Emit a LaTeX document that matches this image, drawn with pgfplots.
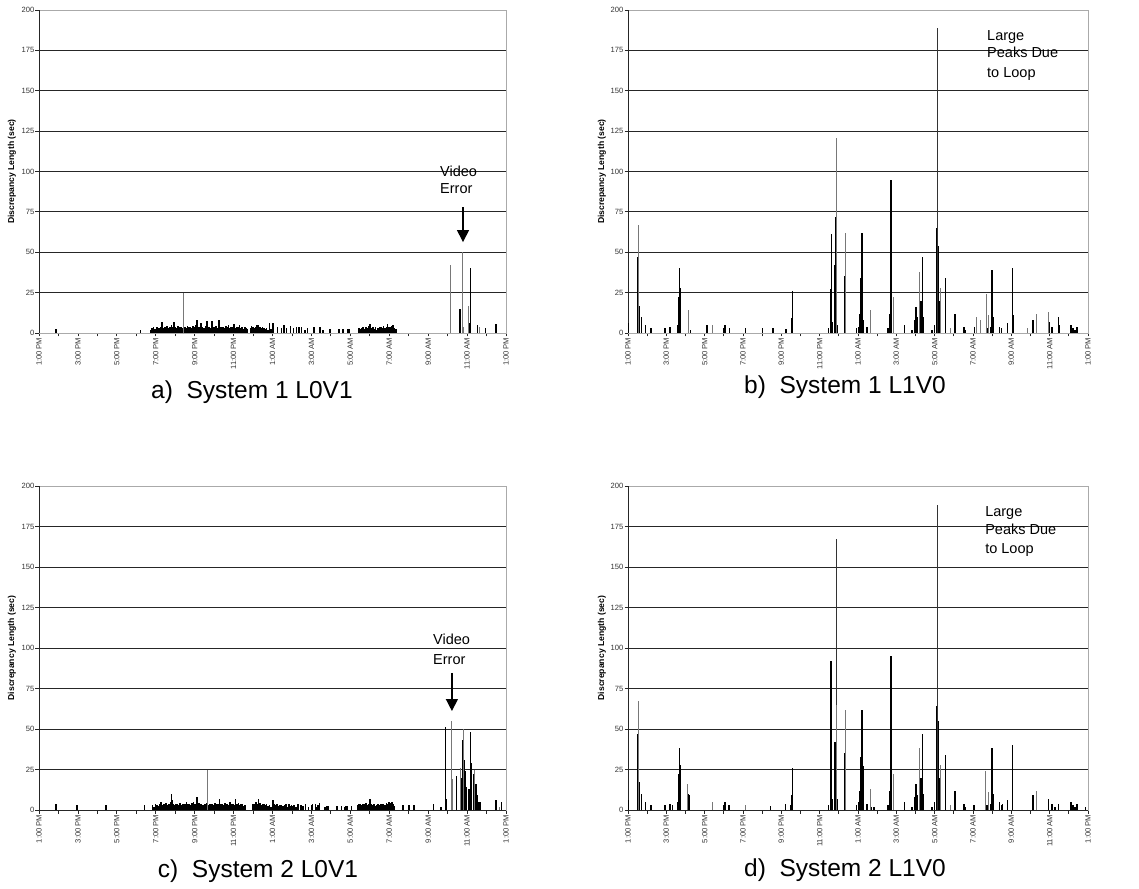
\documentclass[border=0pt]{standalone}
\usepackage{pgfplots}
\pgfplotsset{compat=1.18}
\usepackage{fontspec}
\setmainfont{Liberation Sans}
\usetikzlibrary{arrows.meta}
\definecolor{sgray}{RGB}{120,120,120}
\definecolor{bgray}{RGB}{170,170,170}
\pgfplotsset{
  panel/.style={
    scale only axis, height=323pt,
    xmin=0, xmax=24, ymin=0, ymax=200,
    ytick={0,25,...,200},
    xtick={0,2,...,24},
    xticklabels={1:00 PM,3:00 PM,5:00 PM,7:00 PM,9:00 PM,11:00 PM,1:00 AM,3:00 AM,5:00 AM,7:00 AM,9:00 AM,11:00 AM,1:00 PM},
    minor xtick={1,3,...,23},
    ymajorgrids, grid style={black!85, line width=0.8pt},
    axis line style={bgray, line width=0.8pt},
    tick style={black!85, line width=0.8pt},
    major tick length=3.5pt, minor tick length=3.5pt,
    tick align=outside,
    xtick pos=bottom, ytick pos=left,
    tick label style={font=\fontsize{7.6}{9}\selectfont, text=black!80},
    x tick label style={rotate=90, anchor=east, inner sep=1pt},
    y tick label style={inner sep=1pt},
    /pgf/number format/assume math mode=true,
    ylabel={Discrepancy Length (sec)},
    ylabel style={font=\fontsize{8.6}{10}\selectfont\bfseries, anchor=center},
    xlabel style={font=\fontsize{24.5}{28}\selectfont, anchor=base},
    blk/.style={ycomb, black, line width=1.4pt, mark=none},
    dns/.style={ycomb, black, line width=1.6pt, mark=none},
    gry/.style={ycomb, sgray, line width=0.9pt, mark=none},
  }
}
\begin{document}
\begin{tikzpicture}
\path[use as bounding box] (0,0) rectangle (1139pt,888pt);
% ---------------- a) ----------------
\begin{axis}[panel, width=467pt, at={(39pt,555pt)}, anchor=south west,
  ylabel style={at={(axis description cs:-0.0578,0.5)}},
  xlabel={a)\ \ System 1 L0V1},
  xlabel style={at={(axis description cs:0.456,-0.204)}}]
\draw[black!85, line width=0.9pt] (rel axis cs:0,0) -- (rel axis cs:0,1);
\draw[black!85, line width=0.9pt] (rel axis cs:0,0) -- (rel axis cs:1,0);
\addplot[dns] coordinates {(0.87,2.5)(5.22,2)
(5.75,2)(5.82,3)(5.89,4)(5.96,2.5)(6.03,3.5)(6.10,4)(6.17,3)(6.24,3.5)(6.31,6.5)(6.38,3)
(6.45,4)(6.52,3.5)(6.59,4.5)(6.66,3)(6.73,4)(6.80,5)(6.87,3.5)(6.94,6.5)(7.01,4)(7.08,3)
(7.15,4.5)(7.22,3.5)(7.29,4)(7.36,3)(7.43,3.5)(7.50,4)(7.57,3)(7.64,4.5)(7.71,3.5)(7.78,4)
(7.85,3)(7.92,4.5)(7.99,3.5)(8.06,5)(8.13,8)(8.20,4)(8.27,3.5)(8.34,6)(8.41,4)(8.48,3)
(8.55,4.5)(8.62,7.5)(8.69,3.5)(8.76,4)(8.83,3)(8.90,7.5)(8.97,4)(9.04,3.5)(9.11,4.5)(9.18,3)
(9.25,8)(9.32,4)(9.39,3.5)(9.46,4)(9.53,3)(9.60,4.5)(9.67,3.5)(9.74,5)(9.81,3)(9.88,4)
(9.95,3.5)(10.02,5.5)(10.09,3)(10.16,4)(10.23,3.5)(10.30,5)(10.37,3)(10.44,4)(10.51,2.5)(10.58,3.5)
(10.65,3)(10.72,2.5)(10.86,3)(10.93,4.5)(11.00,3.5)(11.07,3)(11.14,4)(11.21,5)(11.28,5)
(11.35,4)(11.42,3)(11.49,3.5)(11.56,3)(11.63,2.5)(11.70,3)(11.77,2)(11.84,6)(11.91,2.5)
(12.04,6)(12.26,4)(12.47,3)(12.60,5)(12.72,3)(12.93,4.5)(13.07,3)(13.24,4)(13.37,3.5)(13.49,4)
(13.66,2)(13.80,3)(14.14,4)(14.43,3.5)(14.60,2)(14.95,2.5)(15.43,2.5)(15.63,2.5)(15.86,2.5)(15.92,2.5)
(16.45,3)(16.52,2.5)(16.59,3)(16.66,3.5)(16.73,2.5)(16.80,4)(16.87,3)(16.94,4.5)(17.01,5.5)(17.08,3)
(17.15,4)(17.22,2.5)(17.29,3.5)(17.36,2)(17.43,3)(17.50,4)(17.57,3.5)(17.64,3)(17.71,4.5)(17.78,3)
(17.85,4)(17.92,5.5)(17.99,4)(18.06,3.5)(18.13,4.5)(18.20,5)(18.27,3)(18.34,2.5)};
\addplot[blk] coordinates {(21.64,15)(21.75,31.5)(22.09,6)(22.19,40)(22.53,5)(22.95,3)(23.48,5.5)};
\addplot[gry] coordinates {(7.43,24.5)(21.16,42)(21.78,50)(21.83,4)(22.05,17)(22.65,4)};
\node[font=\fontsize{14.5}{17}\selectfont, anchor=base west, inner sep=0pt] at (axis cs:20.61,97.2) {Video};
\node[font=\fontsize{14.5}{17}\selectfont, anchor=base west, inner sep=0pt] at (axis cs:20.61,86.1) {Error};
\draw[-{Triangle[width=12pt,length=12pt]}, line width=1.3pt] (axis cs:21.79,78) -- (axis cs:21.79,56.3);
\end{axis}
% ---------------- b) ----------------
\begin{axis}[panel, width=460pt, at={(628pt,555pt)}, anchor=south west,
  ylabel style={at={(axis description cs:-0.0565,0.5)}},
  xlabel={b)\ \ System 1 L1V0},
  xlabel style={at={(axis description cs:0.4717,-0.186)}}]
\draw[black!85, line width=0.9pt] (rel axis cs:0,0) -- (rel axis cs:0,1);
\draw[black!85, line width=0.9pt] (rel axis cs:0,0) -- (rel axis cs:1,0);
\addplot[blk] coordinates {(0.03,6)(0.52,47)(0.61,17)(0.71,10)(0.92,5)(1.2,3)(1.93,3)(2.2,4)
(2.58,5)(2.63,22)(2.68,40)(2.72,28)(3.26,2)(4.13,5)(5.0,3)(5.05,5)(5.28,3)(6.13,3)(7.02,3)(7.56,3)
(8.24,2.5)(8.55,9)(8.59,26)(10.47,3)(10.56,27)(10.61,61)(10.66,7)(10.8,42)(10.85,72)(10.92,5)
(11.29,23)(11.32,35)(11.92,3)(12.04,4)(12.09,12)(12.16,34)(12.21,62)(12.28,8)(12.46,4)
(13.57,3)(13.64,12)(13.69,27)(13.73,95)(13.76,82)(14.42,5)(14.81,2)(14.98,8)(15.03,16)(15.1,10)
(15.28,20)(15.35,47)(15.42,10)(15.85,2)(15.99,5)(16.08,65)(16.18,54)(16.25,20)(16.57,34)
(17.07,12)(17.53,4)(17.6,2)(18.08,4)(18.73,3)(18.92,4)(19.0,39)(19.07,10)(19.39,4)(19.48,3)
(19.79,6)(20.05,40)(20.09,11)(21.13,8)(21.99,7)(22.13,4)(22.47,10)(22.51,5)(23.12,5)(23.22,3)
(23.33,2)(23.43,4)};
\addplot[ycomb, black!80, line width=0.7pt] coordinates {(16.15,189)};
\addplot[gry] coordinates {(0.57,67)(3.17,14)(4.39,5)(10.89,121)(11.34,62)(12.63,14)(13.85,22)
(15.21,38)(16.29,28)(16.81,3)(18.17,10)(18.41,8)(18.68,24)(18.83,11)(20.82,3)(21.29,12)(21.95,13)};
\node[font=\fontsize{14.5}{17}\selectfont, anchor=base west, inner sep=0pt] at (axis cs:18.73,180.8) {Large};
\node[font=\fontsize{14.5}{17}\selectfont, anchor=base west, inner sep=0pt] at (axis cs:18.73,170.3) {Peaks Due};
\node[font=\fontsize{14.5}{17}\selectfont, anchor=base west, inner sep=0pt] at (axis cs:18.73,157.9) {to Loop};
\end{axis}
% ---------------- c) ----------------
\begin{axis}[panel, width=467pt, height=324pt, at={(39pt,78pt)}, anchor=south west,
  ylabel style={at={(axis description cs:-0.0578,0.5)}},
  xlabel={c)\ \ System 2 L0V1},
  xlabel style={at={(axis description cs:0.469,-0.207)}}]
\draw[black!85, line width=0.9pt] (rel axis cs:0,0) -- (rel axis cs:0,1);
\draw[black!85, line width=0.9pt] (rel axis cs:0,0) -- (rel axis cs:1,0);
\addplot[dns] coordinates {(0.87,4)(1.95,3)(3.44,3)(5.43,3)
(5.84,3)(5.91,2)(5.98,4)(6.05,3)(6.12,2.5)(6.19,3.5)(6.26,5)(6.33,3)(6.40,4)(6.47,3.5)
(6.54,4.5)(6.61,3)(6.68,4)(6.75,5)(6.80,10)(6.82,6)(6.89,4)(6.96,3)(7.03,3.5)(7.10,4)(7.17,3)
(7.24,4.5)(7.31,3)(7.38,4)(7.45,3.5)(7.52,4)(7.59,5)(7.66,3.5)(7.73,4)(7.80,3)(7.87,4.5)
(7.94,5)(8.01,3.5)(8.08,4)(8.12,8)(8.15,3)(8.22,4.5)(8.29,3.5)(8.36,4)(8.43,3)(8.50,4)
(8.57,3.5)(8.64,4.5)(8.71,3)(8.78,4)(8.85,3.5)(8.92,4)(8.99,3)(9.06,4.5)(9.13,3.5)(9.20,4)
(9.27,7)(9.34,3.5)(9.41,4)(9.48,3)(9.55,4.5)(9.62,3.5)(9.69,4)(9.76,3)(9.83,5)(9.90,3.5)
(9.97,4)(10.04,3)(10.09,7)(10.11,4)(10.18,3.5)(10.25,4.5)(10.32,3)(10.39,4)(10.46,3.5)(10.53,2.5)
(10.60,3)(11.00,4)(11.07,3.5)(11.14,5)(11.21,4)(11.28,7)(11.35,4.5)(11.42,3)(11.49,4)(11.56,3.5)
(11.63,3)(11.70,4)(11.77,2.5)(11.84,3)(11.91,2)(12.04,6)
(12.10,4)(12.17,3)(12.24,3.5)(12.31,2.5)(12.38,3)(12.45,3)(12.55,2.5)(12.62,3)(12.70,4)(12.77,2)
(12.84,3.5)(12.91,2.5)(12.98,3)(13.05,2.5)(13.12,3)(13.20,2)(13.30,4)(13.45,3)(13.52,2.5)(13.60,2.5)
(13.70,3.5)(13.85,2)(14.00,3)(14.06,4)(14.20,3.5)(14.30,2)(14.35,3)(14.42,4.5)(14.70,2)(14.78,2.5)
(14.85,2.5)(15.30,2.5)(15.55,2.5)(15.70,2)(15.78,2.5)(15.86,2.5)(16.05,2.5)
(16.38,3)(16.45,4)(16.52,3.5)(16.59,3)(16.66,4)(16.73,3.5)(16.80,4.5)(16.87,3)(16.94,4)(17.01,7)
(17.08,3.5)(17.15,3)(17.22,4)(17.29,2.5)(17.36,3)(17.43,3.5)(17.50,3)(17.57,4)(17.64,3.5)(17.71,4)
(17.78,3)(17.85,4.5)(17.92,4)(17.99,5)(18.06,4.5)(18.13,5)(18.20,4)(18.27,2.5)
(18.70,3)(19.00,3)(19.28,3)(20.27,4)(20.65,2)};
\addplot[blk] coordinates {(20.89,51)(20.92,7)(21.20,6)(21.45,21)(21.70,20)(21.77,43)(21.87,31)(21.90,24)(21.97,14)(22.10,13)
(22.19,48)(22.24,29)(22.32,22)(22.45,16)(22.50,9)(22.60,5)(22.67,5)(23.48,6)(23.77,5)};
\addplot[gry] coordinates {(8.65,25)(21.18,55)(21.23,19)(21.65,26)(21.80,50)(22.38,25)(23.68,2)};
\node[font=\fontsize{14.5}{17}\selectfont, anchor=base west, inner sep=0pt] at (axis cs:20.25,101.9) {Video};
\node[font=\fontsize{14.5}{17}\selectfont, anchor=base west, inner sep=0pt] at (axis cs:20.25,90.1) {Error};
\draw[-{Triangle[width=12pt,length=12pt]}, line width=1.3pt] (axis cs:21.22,84.6) -- (axis cs:21.22,61.1);
\end{axis}
% ---------------- d) ----------------
\begin{axis}[panel, width=460pt, height=324pt, at={(628pt,78pt)}, anchor=south west,
  ylabel style={at={(axis description cs:-0.0565,0.5)}},
  xlabel={d)\ \ System 2 L1V0},
  xlabel style={at={(axis description cs:0.4717,-0.204)}}]
\draw[black!85, line width=0.9pt] (rel axis cs:0,0) -- (rel axis cs:0,1);
\draw[black!85, line width=0.9pt] (rel axis cs:0,0) -- (rel axis cs:1,0);
\addplot[blk] coordinates {(0.03,6)(0.52,47)(0.61,17)(0.71,10)(0.92,5)(1.2,3)(1.93,3)(2.2,4)(2.32,3)
(2.58,5)(2.63,22)(2.68,38)(2.72,28)(3.12,10)(3.19,9)(5.0,3)(5.05,5)(5.26,3)(7.44,2.5)
(8.22,4)(8.5,3)(8.55,9)(8.59,26)(10.47,3)(10.56,30)(10.59,92)(10.63,61)(10.66,7)(10.8,42)(10.92,7)
(11.29,21)(11.32,35)(11.92,3)(12.04,5)(12.09,12)(12.16,33)(12.21,62)(12.26,27)(12.3,8)(12.46,4)
(12.68,2)(12.84,2)(13.57,3)(13.64,12)(13.69,27)(13.73,95)(13.76,83)(14.42,5)(14.81,2)(14.98,8)
(15.03,16)(15.1,9)(15.28,20)(15.35,47)(15.42,10)(15.85,2)(15.99,5)(16.08,64)(16.18,55)(16.25,20)
(16.57,34)(17.07,12)(17.53,4)(17.6,2)(18.05,3)(18.73,3)(18.92,4)(19.0,38)(19.05,10)(19.39,5)
(19.48,3)(19.55,4)(19.79,6)(20.05,40)(21.13,9)(21.95,7)(22.13,4)(22.27,2)(22.47,4)(23.12,5)
(23.22,3)(23.33,2)(23.43,4)(23.87,2)};
\addplot[ycomb, black!80, line width=0.7pt] coordinates {(10.89,167)(16.15,188)};
\addplot[gry] coordinates {(0.57,67)(3.08,16)(4.39,5)(6.11,3)(10.85,65)(11.34,62)(12.63,13)
(13.85,22)(15.21,38)(16.29,28)(16.81,3)(18.66,24)(18.83,11)(21.29,12)};
\node[font=\fontsize{14.5}{17}\selectfont, anchor=base west, inner sep=0pt] at (axis cs:18.63,180.9) {Large};
\node[font=\fontsize{14.5}{17}\selectfont, anchor=base west, inner sep=0pt] at (axis cs:18.63,169.8) {Peaks Due};
\node[font=\fontsize{14.5}{17}\selectfont, anchor=base west, inner sep=0pt] at (axis cs:18.63,158.6) {to Loop};
\end{axis}
\end{tikzpicture}
\end{document}
